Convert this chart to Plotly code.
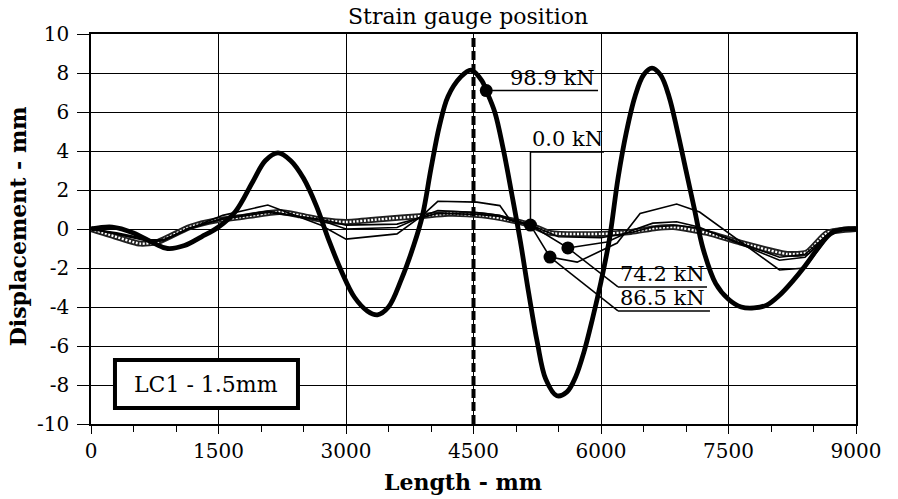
import plotly.graph_objects as go

# ---------------------------------------------------------------------------
# Lateral displacement along the member for load case LC1 (1.5 mm imperfection)
# Length in mm, displacement in mm, one series per load level.
# ---------------------------------------------------------------------------
len_0kN = [0, 220, 580, 780, 1160, 1480, 1750, 2220, 2460, 2730, 3000, 3400,
           3900, 4200, 4600, 4930, 5170, 5400, 6000, 6350, 6650, 6850, 7250,
           7640, 8190, 8420, 8660, 9000]
disp_0kN = [0, -0.3, -0.75, -0.67, 0.1, 0.45, 0.6, 0.87, 0.7, 0.46, 0.36, 0.5,
            0.67, 0.78, 0.7, 0.46, 0.2, -0.2, -0.25, -0.15, 0.05, 0.1, -0.2,
            -0.7, -1.28, -1.2, -0.2, 0]

len_mid = [0, 300, 700, 850, 1150, 1550, 2080, 2700, 3000, 3600, 3900, 4080,
           4540, 4810, 4930, 5170, 5500, 6000, 6380, 6610, 6890, 7160, 8100,
           8400, 8730, 9000]
disp_mid = [0, -0.25, -0.65, -0.6, 0.05, 0.5, 0.85, 0.5, 0.2, 0.25, 0.6, 0.8,
            0.75, 0.65, 0.45, 0.2, -0.4, -0.45, -0.15, 0.1, 0.18, 0.05, -1.45,
            -1.3, -0.05, 0]

len_742kN = [0, 300, 700, 850, 1150, 1550, 2080, 2700, 3000, 3600, 3900, 4080,
             4540, 4810, 4930, 5170, 5610, 6070, 6380, 6610, 6890, 7150, 8100,
             8400, 8730, 9000]
disp_742kN = [0, -0.2, -0.55, -0.55, 0.0, 0.55, 0.92, 0.45, 0.0, 0.08, 0.65,
              0.95, 0.85, 0.7, 0.5, 0.2, -0.97, -0.67, -0.05, 0.3, 0.37, 0.1,
              -1.6, -1.45, -0.05, 0]

len_865kN = [0, 300, 700, 850, 1150, 1550, 2080, 2700, 3000, 3600, 3900, 4080,
             4540, 4810, 4930, 5170, 5400, 5720, 6190, 6460, 6890, 7160, 8100,
             8400, 8730, 9000]
disp_865kN = [0, -0.25, -0.6, -0.6, 0.0, 0.7, 1.23, 0.2, -0.52, -0.25, 0.7,
              1.42, 1.38, 1.2, 0.46, 0.2, -1.44, -1.7, -0.72, 0.8, 1.28, 0.87,
              -2.1, -2.0, -0.05, 0]

len_989kN = [0, 250, 500, 750, 900, 1100, 1300, 1500, 1700, 1900, 2050, 2200,
             2350, 2500, 2650, 2800, 2950, 3100, 3250, 3370, 3500, 3650, 3800,
             3900, 4000, 4100, 4200, 4350, 4470, 4600, 4650, 4750, 4850, 4950,
             5050, 5150, 5250, 5350, 5480, 5600, 5700, 5800, 5900, 6000, 6100,
             6200, 6300, 6400, 6500, 6600, 6700, 6800, 6900, 7000, 7100, 7200,
             7350, 7500, 7650, 7800, 7950, 8100, 8250, 8400, 8550, 8700, 8850,
             9000]
disp_989kN = [0, 0.1, -0.2, -0.75, -1.0, -0.85, -0.4, 0.1, 0.9, 2.4, 3.5, 3.9,
              3.5, 2.6, 1.2, -0.6, -2.2, -3.5, -4.2, -4.4, -4.0, -2.6, -0.8,
              0.7, 3.1, 5.3, 6.8, 7.8, 8.15, 7.6, 7.1, 6.0, 4.1, 1.8, -0.6,
              -3.3, -5.8, -7.7, -8.55, -8.35, -7.6, -6.3, -4.6, -2.7, -0.5,
              2.6, 5.0, 6.8, 7.9, 8.25, 7.9, 6.8, 5.0, 3.0, 1.0, -1.0, -2.8,
              -3.6, -4.0, -4.05, -3.9, -3.4, -2.7, -1.9, -1.0, -0.25, 0, 0]

# Load levels that get a callout, and the station where each is tagged
load_labels = ["0.0 kN", "74.2 kN", "86.5 kN", "98.9 kN"]
tag_station = [5170, 5610, 5400, 4650]

gauge_position = 4500
gauge_label = "Strain gauge position"
case_label = "LC1 - 1.5mm"
x_title = "Length - mm"
y_title = "Displacement - mm"

x_tick_vals = [0, 1500, 3000, 4500, 6000, 7500, 9000]
x_tick_text = ["0", "1500", "3000", "4500", "6000", "7500", "9000"]
y_tick_vals = [-10, -8, -6, -4, -2, 0, 2, 4, 6, 8, 10]
y_tick_text = ["-10", "-8", "-6", "-4", "-2", "0", "2", "4", "6", "8", "10"]

series = {
    "0.0 kN": (len_0kN, disp_0kN),
    "mid": (len_mid, disp_mid),
    "74.2 kN": (len_742kN, disp_742kN),
    "86.5 kN": (len_865kN, disp_865kN),
    "98.9 kN": (len_989kN, disp_989kN),
}

FONT = "DejaVu Serif"
INK = "black"

fig = go.Figure()

# Unloaded shape: heavy chain-like band (dark outline with light dashes inside)
fig.add_trace(go.Scatter(x=len_0kN, y=disp_0kN, mode="lines",
                         line=dict(color="#202020", width=6, shape="spline",
                                   smoothing=0.6),
                         hoverinfo="skip", showlegend=False))
fig.add_trace(go.Scatter(x=len_0kN, y=disp_0kN, mode="lines",
                         line=dict(color="white", width=2.4, shape="spline",
                                   smoothing=0.6, dash="2px,1.6px"),
                         hoverinfo="skip", showlegend=False))

# Intermediate load levels: thin polylines
for name in ["mid", "74.2 kN", "86.5 kN"]:
    xs, ys = series[name]
    fig.add_trace(go.Scatter(x=xs, y=ys, mode="lines", name=name,
                             line=dict(color=INK, width=1.6),
                             showlegend=False))

# Peak load: heavy smooth curve
fig.add_trace(go.Scatter(x=len_989kN, y=disp_989kN, mode="lines",
                         name="98.9 kN",
                         line=dict(color=INK, width=4.8, shape="spline",
                                   smoothing=1.0),
                         showlegend=False))

# Tag markers, read from each series at its tag station
tag_x, tag_y = [], []
for lab, st in zip(load_labels, tag_station):
    xs, ys = series[lab]
    tag_x.append(st)
    tag_y.append(ys[xs.index(st)])

# Callout geometry (leader elbow, underline end, text centre) in axis units
callouts = {
    "0.0 kN": dict(elbow=(5170, 3.95), end=6035, text_x=5600),
    "74.2 kN": dict(elbow=(6200, -2.97), end=7247, text_x=6718),
    "86.5 kN": dict(elbow=(6200, -4.2), end=7282, text_x=6718),
    "98.9 kN": dict(elbow=None, end=5965, text_x=5435),
}

shapes = []
annotations = []
for lab, mx, my in zip(load_labels, tag_x, tag_y):
    c = callouts[lab]
    ex, ey = c["elbow"] if c["elbow"] is not None else (mx, my)
    if (ex, ey) != (mx, my):
        shapes.append(dict(type="line", xref="x", yref="y", x0=mx, y0=my,
                           x1=ex, y1=ey, line=dict(color=INK, width=1.5),
                           layer="above"))
    shapes.append(dict(type="line", xref="x", yref="y", x0=ex, y0=ey,
                       x1=c["end"], y1=ey, line=dict(color=INK, width=1.5),
                       layer="above"))
    annotations.append(dict(x=c["text_x"], y=ey, xref="x", yref="y",
                            text=lab, showarrow=False, yanchor="bottom",
                            yshift=-1, font=dict(family=FONT, size=21,
                                                 color=INK)))

fig.add_trace(go.Scatter(x=tag_x, y=tag_y, mode="markers",
                         marker=dict(color=INK, size=13),
                         hoverinfo="skip", showlegend=False))

# Strain gauge position: thick dashed vertical
shapes.append(dict(type="line", xref="x", yref="y", x0=gauge_position,
                   x1=gauge_position, y0=-10, y1=10,
                   line=dict(color=INK, width=4, dash="9px,4px"),
                   layer="above"))
annotations.append(dict(x=gauge_position, y=1.045, xref="x", yref="paper",
                        text=gauge_label, showarrow=False, xshift=-6,
                        yanchor="middle",
                        font=dict(family=FONT, size=22, color=INK)))

# Load case box
shapes.append(dict(type="rect", xref="x", yref="y", x0=282, x1=2435,
                   y0=-9.18, y1=-6.72, fillcolor="white",
                   line=dict(color=INK, width=4), layer="above"))
annotations.append(dict(x=1358, y=-7.95, xref="x", yref="y", text=case_label,
                        showarrow=False,
                        font=dict(family=FONT, size=22, color=INK)))

# Axis titles
annotations.append(dict(x=0.486, y=-0.148, xref="paper", yref="paper",
                        text="<b>%s</b>" % x_title, showarrow=False,
                        yanchor="middle", xanchor="center",
                        font=dict(family=FONT, size=22, color=INK)))
annotations.append(dict(x=-0.095, y=0.508, xref="paper", yref="paper",
                        text="<b>%s</b>" % y_title, showarrow=False,
                        textangle=-90, xanchor="center", yanchor="middle",
                        font=dict(family=FONT, size=22, color=INK)))

axis_common = dict(showline=True, linecolor=INK, linewidth=1.5, mirror=True,
                   showgrid=True, gridcolor=INK, gridwidth=1,
                   zeroline=False, ticks="outside", tickcolor=INK,
                   tickwidth=1.3, tickfont=dict(family=FONT, size=20,
                                                color=INK))

fig.update_layout(
    width=898, height=499,
    margin=dict(l=91, r=42, t=34, b=75),
    paper_bgcolor="white", plot_bgcolor="white",
    showlegend=False,
    shapes=shapes, annotations=annotations,
    xaxis=dict(range=[0, 9000], tickmode="array", tickvals=x_tick_vals,
               ticktext=x_tick_text, ticklen=8,
               minor=dict(tickmode="linear", tick0=0, dtick=500,
                          ticks="outside", ticklen=6, tickcolor=INK,
                          tickwidth=1.2, showgrid=False),
               **axis_common),
    yaxis=dict(range=[-10, 10], tickmode="array", tickvals=y_tick_vals,
               ticktext=y_tick_text, ticklen=12, ticklabelstandoff=4,
               **axis_common),
)

fig.write_html("out.html")
